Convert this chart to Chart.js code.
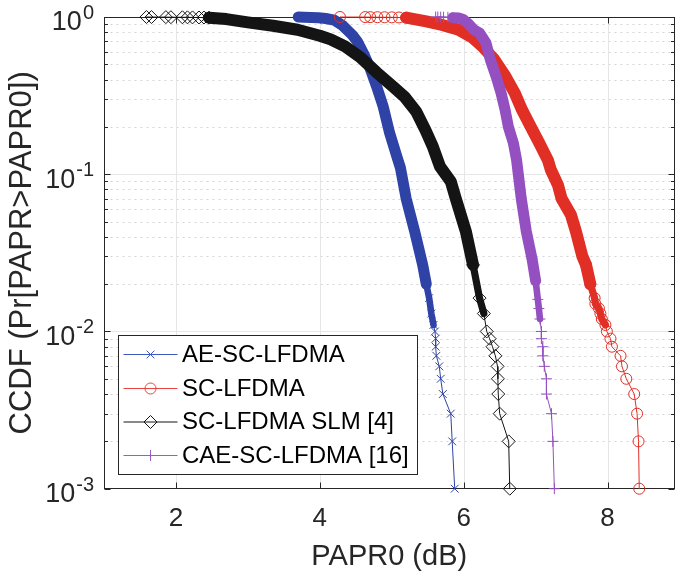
<!DOCTYPE html>
<html>
<head>
<meta charset="utf-8">
<title>CCDF of PAPR</title>
<script src="https://cdn.jsdelivr.net/npm/chart.js@4.4.1/dist/chart.umd.min.js"></script>
<style>
html,body{margin:0;padding:0;background:#ffffff;}
#box{position:relative;width:682px;height:580px;}
</style>
</head>
<body>
<div id="box"><canvas id="chart" width="682" height="580"></canvas></div>
<script>
// ---------------- data ----------------
const seriesLabels = ['AE-SC-LFDMA', 'SC-LFDMA', 'SC-LFDMA SLM [4]', 'CAE-SC-LFDMA [16]'];

const aeX = [3.70,3.78,3.88,3.98,4.08,4.20,4.32,4.45,4.52,4.62,4.70,4.80,4.88,4.97,5.07,5.12,5.20,5.32,5.43,5.48,5.52,5.55,5.58,5.60,5.61,5.61,5.62,5.66,5.68,5.71,5.82,5.84,5.875];
const aeY = [1.0,0.998,0.994,0.988,0.978,0.955,0.88,0.77,0.70,0.57,0.47,0.35,0.27,0.183,0.13,0.11,0.07,0.043,0.0265,0.020,0.0163,0.013,0.011,0.010,0.009,0.008,0.007,0.006,0.005,0.004,0.003,0.002,0.001];

const scX = [4.28,4.63,4.70,4.80,4.90,5.00,5.10,5.20,5.48,5.70,5.93,6.12,6.26,6.42,6.58,6.71,6.81,6.93,7.05,7.17,7.21,7.31,7.36,7.49,7.56,7.65,7.70,7.76,7.82,7.83,7.88,7.90,7.92,7.97,7.99,8.04,8.06,8.18,8.20,8.26,8.37,8.41,8.43,8.44];
const scY = [1.0,0.999,0.998,0.997,0.996,0.995,0.993,0.99,0.937,0.89,0.83,0.74,0.65,0.54,0.419,0.328,0.257,0.201,0.158,0.123,0.107,0.0855,0.070,0.0552,0.0433,0.030,0.0265,0.020,0.0163,0.015,0.014,0.013,0.012,0.011,0.010,0.009,0.008,0.007,0.006,0.005,0.004,0.003,0.002,0.001];

const slmX = [1.59,1.66,1.86,1.93,2.09,2.16,2.23,2.32,2.39,2.46,2.70,3.00,3.35,3.69,4.00,4.15,4.35,4.56,4.79,5.02,5.18,5.34,5.47,5.57,5.67,5.82,5.89,6.03,6.13,6.22,6.28,6.32,6.36,6.40,6.44,6.47,6.475,6.48,6.50,6.625,6.64];
const slmY = [1.0,0.999,0.998,0.997,0.996,0.995,0.994,0.993,0.992,0.99,0.97,0.925,0.88,0.83,0.76,0.72,0.65,0.556,0.444,0.36,0.31,0.25,0.19,0.15,0.112,0.09,0.07,0.0433,0.0265,0.0163,0.013,0.010,0.009,0.008,0.007,0.006,0.005,0.004,0.003,0.002,0.001];

const caeX = [5.61,5.64,5.68,5.72,5.78,5.85,5.93,6.00,6.07,6.14,6.22,6.31,6.37,6.45,6.52,6.575,6.62,6.69,6.735,6.80,6.87,6.95,7.00,7.03,7.045,7.06,7.08,7.08,7.10,7.10,7.12,7.15,7.15,7.22,7.24,7.26];
const caeY = [1.0,0.999,0.998,0.997,0.995,0.99,0.985,0.96,0.90,0.83,0.79,0.683,0.535,0.419,0.328,0.257,0.201,0.158,0.123,0.070,0.0433,0.029,0.021,0.016,0.014,0.012,0.010,0.009,0.008,0.007,0.006,0.005,0.004,0.003,0.002,0.001];

const xTickValues = [2, 4, 6, 8];
const yDecades = [1, 0.1, 0.01, 0.001];
const yExponents = ['0', '-1', '-2', '-3'];
const xTitle = 'PAPR0 (dB)';
const yTitle = 'CCDF (Pr[PAPR>PAPR0])';

// ---------------- styles ----------------
const FONT = '"Liberation Sans", Arial, Helvetica, sans-serif';
const AX = '#262626';
const seriesStyle = [
  {color:'#2f43a6', legendColor:'#3f58c0', marker:'crossRot', r:5.5, band:11, thickTop:1.01, order:4},
  {color:'#e12f25', legendColor:'#e8463c', marker:'circle',   r:5.5, band:12, thickTop:0.991, order:3},
  {color:'#141414', legendColor:'#141414', marker:'rectRot',  r:6.5, band:12, thickTop:0.991, order:2},
  {color:'#9450c0', legendColor:'#9a5cc8', marker:'cross',    r:5.5, band:11, thickTop:0.991, order:1}
];
const seriesX = [aeX, scX, slmX, caeX];
const seriesY = [aeY, scY, slmY, caeY];

function makeDataset(i) {
  const st = seriesStyle[i];
  return {
    label: seriesLabels[i],
    data: seriesX[i].map((x, k) => ({x: x, y: seriesY[i][k]})),
    showLine: true,
    borderColor: st.color,
    backgroundColor: st.color,
    borderWidth: 1,
    borderCapStyle: 'round',
    borderJoinStyle: 'round',
    pointStyle: st.marker,
    pointBorderColor: st.color,
    pointBackgroundColor: 'rgba(0,0,0,0)',
    pointBorderWidth: 1,
    pointRadius: c => {
      const v = c.raw ? c.raw.y : 1;
      return (v < 0.03 || (v >= 0.99 && st.thickTop < 1)) ? st.r : 0;
    },
    pointHoverRadius: 0,
    clip: 14,
    order: st.order,
    segment: {
      borderWidth: c => {
        const y0 = c.p0.parsed.y, y1 = c.p1.parsed.y;
        if (y0 > st.thickTop) return 1;
        if (y1 >= 0.02) return st.band;
        if (y1 >= 0.0105) return st.band * 0.6;
        return 1;
      }
    }
  };
}

function drawMarker(ctx, style, x, y, r, color) {
  ctx.save();
  ctx.strokeStyle = color; ctx.lineWidth = 1; ctx.beginPath();
  if (style === 'circle') {
    ctx.arc(x, y, r, 0, Math.PI * 2);
  } else if (style === 'crossRot') {
    const d = r * Math.SQRT1_2;
    ctx.moveTo(x - d, y - d); ctx.lineTo(x + d, y + d);
    ctx.moveTo(x - d, y + d); ctx.lineTo(x + d, y - d);
  } else if (style === 'cross') {
    ctx.moveTo(x - r, y); ctx.lineTo(x + r, y);
    ctx.moveTo(x, y - r); ctx.lineTo(x, y + r);
  } else if (style === 'rectRot') {
    ctx.moveTo(x, y - r); ctx.lineTo(x + r, y); ctx.lineTo(x, y + r); ctx.lineTo(x - r, y); ctx.closePath();
  }
  ctx.stroke();
  ctx.restore();
}

const matlabAxes = {
  id: 'matlabAxes',
  beforeDatasetsDraw(chart) {
    const {ctx, scales: {x, y}} = chart;
    const L = Math.round(x.left) + 0.5, R = Math.round(x.right) - 0.5;
    const T = Math.round(y.top) + 0.5, B = Math.round(y.bottom) - 0.5;
    ctx.save();
    ctx.lineWidth = 1;
    const seg = (x1, y1, x2, y2) => { ctx.beginPath(); ctx.moveTo(x1, y1); ctx.lineTo(x2, y2); ctx.stroke(); };
    // minor y grid (dotted)
    ctx.strokeStyle = '#d4d4d4';
    ctx.setLineDash([2, 4]);
    for (let e = -3; e < 0; e++) {
      for (let m = 2; m <= 9; m++) {
        const py = Math.round(y.getPixelForValue(m * Math.pow(10, e))) + 0.5;
        seg(L, py, R, py);
      }
    }
    ctx.setLineDash([]);
    // major grid
    ctx.strokeStyle = '#e6e6e6';
    xTickValues.forEach(v => { const px = Math.round(x.getPixelForValue(v)) + 0.5; seg(px, T, px, B); });
    yDecades.slice(1, -1).forEach(v => { const py = Math.round(y.getPixelForValue(v)) + 0.5; seg(L, py, R, py); });
    // box
    ctx.strokeStyle = AX;
    ctx.strokeRect(L, T, R - L, B - T);
    // x ticks (inward, bottom and top)
    xTickValues.forEach(v => {
      const px = Math.round(x.getPixelForValue(v)) + 0.5;
      seg(px, B, px, B - 6); seg(px, T, px, T + 6);
    });
    // y ticks (major + minor, left and right)
    for (let e = -3; e <= 0; e++) {
      for (let m = 1; m <= 9; m++) {
        const v = m * Math.pow(10, e);
        if (v > 1.0001) continue;
        const len = m === 1 ? 6 : 3.5;
        const py = Math.round(y.getPixelForValue(v)) + 0.5;
        seg(L, py, L + len, py); seg(R, py, R - len, py);
      }
    }
    ctx.restore();
  },
  afterDatasetsDraw(chart) {
    const {ctx} = chart;
    // legend box (inside axes, lower left)
    const bx = 118.5, by = 335.5, bw = 299, bh = 139;
    ctx.save();
    ctx.fillStyle = '#ffffff';
    ctx.fillRect(bx, by, bw, bh);
    ctx.strokeStyle = AX; ctx.lineWidth = 1;
    ctx.strokeRect(bx, by, bw, bh);
    ctx.font = '24px ' + FONT;
    ctx.textBaseline = 'middle';
    ctx.textAlign = 'left';
    const rowsY = [354, 388, 421.5, 455];
    seriesLabels.forEach((lab, i) => {
      const st = seriesStyle[i];
      const ry = rowsY[i] + 0.5;
      ctx.strokeStyle = st.legendColor; ctx.lineWidth = 1;
      ctx.beginPath(); ctx.moveTo(123.5, ry); ctx.lineTo(177.5, ry); ctx.stroke();
      drawMarker(ctx, st.marker, 150.5, ry, st.r, st.legendColor);
      ctx.fillStyle = '#000000';
      ctx.fillText(lab, 182, rowsY[i] + 1);
    });
    ctx.restore();
  },
  afterDraw(chart) {
    const {ctx, scales: {y}} = chart;
    ctx.save();
    ctx.fillStyle = AX;
    ctx.textAlign = 'right';
    const rightEdge = 94;
    yDecades.forEach((v, i) => {
      const py = y.getPixelForValue(v);
      ctx.font = '20px ' + FONT;
      const ew = ctx.measureText(yExponents[i]).width;
      ctx.textBaseline = 'alphabetic';
      ctx.fillText(yExponents[i], rightEdge, py + 2);
      ctx.font = '27px ' + FONT;
      ctx.textBaseline = 'middle';
      ctx.fillText('10', rightEdge - ew - 1, py + 6);
    });
    ctx.restore();
  }
};

const chart = new Chart(document.getElementById('chart'), {
  type: 'scatter',
  data: { datasets: [0, 1, 2, 3].map(makeDataset) },
  options: {
    responsive: false,
    animation: false,
    events: [],
    layout: { padding: { top: 17, right: 1.5, left: 0, bottom: 0 } },
    plugins: { legend: { display: false }, tooltip: { enabled: false } },
    scales: {
      x: {
        type: 'linear', min: 1, max: 8.93,
        grid: { display: false, drawTicks: false },
        border: { display: false },
        afterBuildTicks: s => { s.ticks = xTickValues.map(v => ({value: v})); },
        afterFit: s => { s.height = 91.3; s.paddingLeft = 0; s.paddingRight = 0; },
        ticks: { color: AX, font: { family: FONT, size: 26 }, padding: 15, autoSkip: false, maxRotation: 0,
                 callback: v => String(v) },
        title: { display: true, text: xTitle, color: AX, font: { family: FONT, size: 29 }, padding: { top: 0, bottom: 6 } }
      },
      y: {
        type: 'logarithmic', min: 0.001, max: 1,
        grid: { display: false, drawTicks: false },
        border: { display: false },
        ticks: { display: false },
        afterFit: s => { s.width = 104; },
        title: { display: true, text: yTitle, color: AX, font: { family: FONT, size: 31 }, padding: { top: 4, bottom: 0 } }
      }
    }
  },
  plugins: [matlabAxes]
});
</script>
</body>
</html>
